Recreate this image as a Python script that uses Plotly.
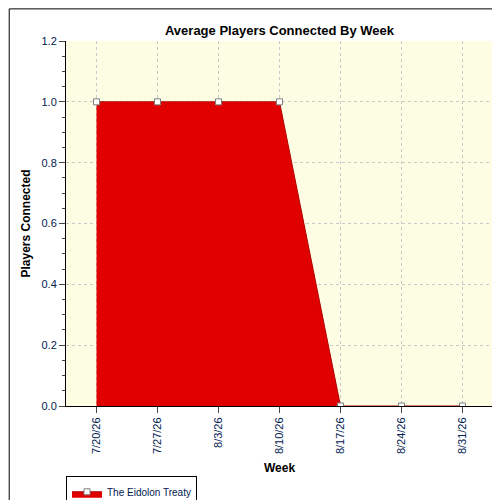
import plotly.graph_objects as go

weeks = ["7/20/26", "7/27/26", "8/3/26", "8/10/26", "8/17/26", "8/24/26", "8/31/26"]
players = [1.0, 1.0, 1.0, 1.0, 0.0, 0.0, 0.0]

fig = go.Figure()
fig.add_trace(go.Scatter(
    x=weeks, y=players, mode="lines+markers", name="The Eidolon Treaty",
    fill="tozeroy", fillcolor="#e00000",
    line=dict(color="#b00000", width=1),
    marker=dict(symbol="square", size=6, color="white", line=dict(color="#808080", width=1)),
))

fig.update_layout(
    width=500, height=500,
    paper_bgcolor="white", plot_bgcolor="#fdfde4",
    margin=dict(l=58, r=15, t=33, b=102, autoexpand=False),
    font=dict(family="Liberation Sans, Arial", size=12, color="#000000"),
    title=dict(text="<b>Average Players Connected By Week</b>", x=0.5, xanchor="center",
               xref="paper", yref="container", y=0.965, font=dict(size=13)),
    showlegend=True,
    legend=dict(x=0.0, y=-0.235, xanchor="left", yanchor="middle", orientation="h",
                bordercolor="black", borderwidth=1, font=dict(size=10, color="#002050"),
                itemwidth=30, tracegroupgap=0),
    shapes=[dict(type="rect", xref="paper", yref="paper", x0=-0.133, x1=1.033,
                 y0=-0.277, y1=1.088, line=dict(color="black", width=1))],
)
fig.update_xaxes(
    title=dict(text="<b>Week</b>", font=dict(size=12), standoff=10),
    type="category", range=[-0.5, 6.5], tickangle=-90, automargin=False,
    showline=True, linecolor="black", ticks="outside", ticklen=6,
    tickfont=dict(size=11, color="#002050"),
    showgrid=True, gridcolor="#c8c8c8", griddash="dot",
)
fig.update_yaxes(
    title=dict(text="<b>Players Connected</b>", font=dict(size=12), standoff=8),
    range=[0, 1.2], dtick=0.2, tickformat=".1f", automargin=False,
    showline=True, linecolor="black", ticks="outside", ticklen=6,
    minor=dict(ticks="outside", ticklen=3, dtick=0.05, showgrid=False),
    tickfont=dict(size=11, color="#002050"),
    showgrid=True, gridcolor="#c8c8c8", griddash="dot", zeroline=False,
)

fig.write_html("out.html")
